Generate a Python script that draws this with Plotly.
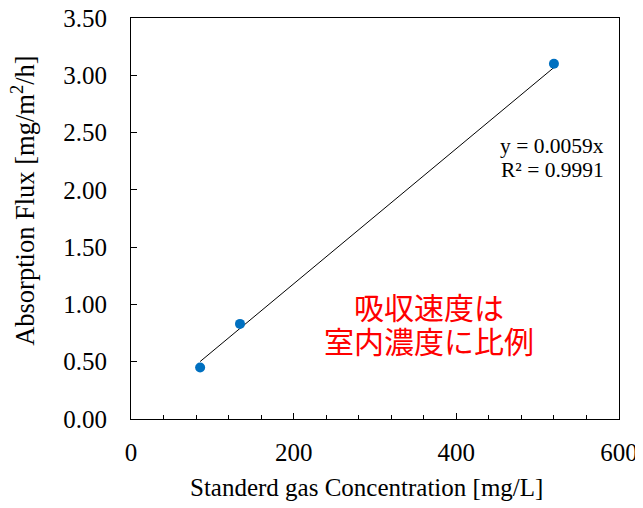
import plotly.graph_objects as go

conc = [85, 134, 520]
flux = [0.45, 0.83, 3.10]
slope = 0.0059
r2 = 0.9991
x_ticks = [0, 200, 400, 600]
y_ticks = [0, 0.5, 1.0, 1.5, 2.0, 2.5, 3.0, 3.5]

fit_x = [min(conc), max(conc)]
fit_y = [slope * v for v in fit_x]

serif = "Liberation Serif, Times New Roman, serif"
cjk = "Noto Sans CJK JP"

fig = go.Figure()
fig.add_trace(go.Scatter(x=fit_x, y=fit_y, mode="lines",
                         line=dict(color="black", width=1), showlegend=False))
fig.add_trace(go.Scatter(x=conc, y=flux, mode="markers",
                         marker=dict(color="#0070C0", size=10), showlegend=False))

# equation labels
fig.add_annotation(x=1.0, xref="paper", xanchor="right", xshift=-13,
                   y=2.38, yref="y", yanchor="middle",
                   text=f"y = {slope}x", showarrow=False,
                   font=dict(family=serif, size=21.5, color="black"))
fig.add_annotation(x=1.0, xref="paper", xanchor="right", xshift=-13,
                   y=2.17, yref="y", yanchor="middle",
                   text=f"R² = {r2}", showarrow=False,
                   font=dict(family=serif, size=21.5, color="black"))
# Japanese callout
fig.add_annotation(x=367, y=0.99, xref="x", yref="y", text="吸収速度は", showarrow=False,
                   font=dict(family=cjk, size=30, color="#FF0000"))
fig.add_annotation(x=367, y=0.69, xref="x", yref="y", text="室内濃度に比例", showarrow=False,
                   font=dict(family=cjk, size=30, color="#FF0000"))
# axis titles
fig.add_annotation(x=0, xref="paper", xanchor="center", xshift=-108,
                   y=0.544, yref="paper", yanchor="middle", textangle=-90,
                   text="Absorption Flux [mg/m<sup>2</sup>/h]", showarrow=False,
                   font=dict(family=serif, size=26.5, color="black"))
fig.add_annotation(x=0.5, xref="paper", xanchor="center", xshift=-9,
                   y=-0.172, yref="paper", yanchor="middle",
                   text="Standerd gas Concentration [mg/L]", showarrow=False,
                   font=dict(family=serif, size=25, color="black"))

fig.update_layout(
    width=635, height=500,
    margin=dict(l=123, r=24, t=10, b=89, autoexpand=False),
    paper_bgcolor="white", plot_bgcolor="white",
    font=dict(family=serif, size=25, color="black"),
    xaxis=dict(range=[0, 600], tickvals=x_ticks, ticks="inside", ticklen=6,
               tickcolor="black", showline=True, linecolor="black", linewidth=1,
               mirror=True, showgrid=False, zeroline=False, ticklabelstandoff=11,
               ticklabeloverflow="allow", automargin=False,
               minor=dict(dtick=40, ticks="inside", ticklen=4, tickcolor="black", showgrid=False)),
    yaxis=dict(range=[0, 3.5], tickvals=y_ticks, tickformat=".2f", ticks="inside", ticklen=6,
               tickcolor="black", showline=True, linecolor="black", linewidth=1,
               mirror=True, showgrid=False, zeroline=False, ticklabelstandoff=18,
               ticklabeloverflow="allow", automargin=False),
)

fig.write_html("out.html")
